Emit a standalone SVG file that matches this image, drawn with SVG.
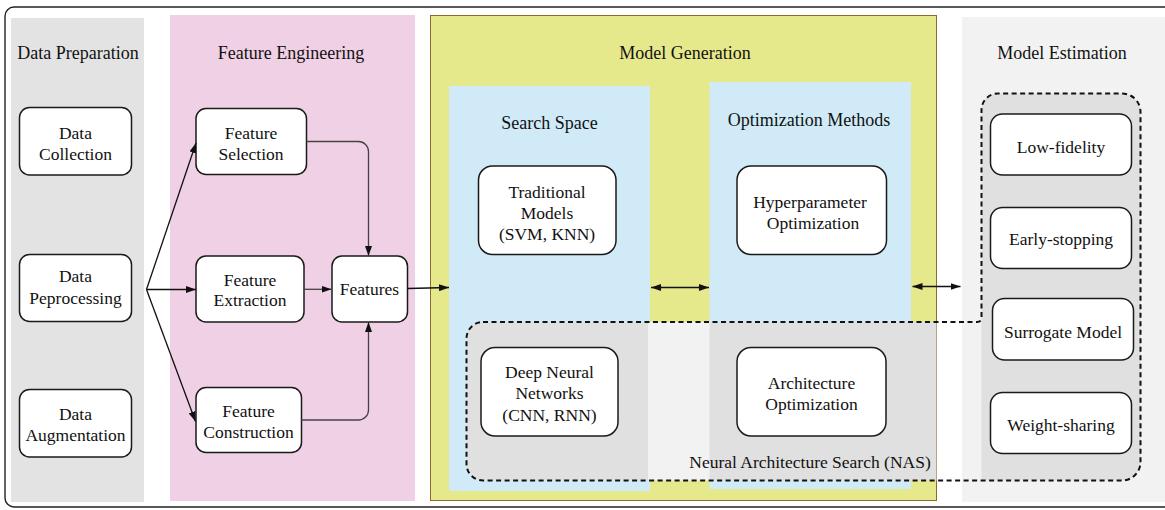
<svg xmlns="http://www.w3.org/2000/svg" width="1165" height="510" viewBox="0 0 1165 510">
<style>
  text { font-family: "Liberation Serif", "Times New Roman", serif; fill: #111; text-anchor: middle; }
  .title { font-size: 18px; }
  .lbl { font-size: 17.5px; }
  .box { fill: #ffffff; stroke: #1a1a1a; stroke-width: 1.5; }
  .conn { fill: none; stroke: #111; stroke-width: 1.3; }
  .connG { fill: none; stroke: #444; stroke-width: 1.3; }
  .dash { fill: none; stroke: #111; stroke-width: 2; stroke-dasharray: 5 3.5; }
</style>
<defs>
  <marker id="ah" viewBox="0 0 10 7" refX="10" refY="3.5" markerWidth="10" markerHeight="7" markerUnits="userSpaceOnUse" orient="auto-start-reverse">
    <path d="M0,0 L10,3.5 L0,7 Z" fill="#111"/>
  </marker>
</defs>
<rect width="1165" height="510" fill="#ffffff"/>
<!-- outer frame -->
<rect x="5" y="7" width="1175" height="500" rx="9" fill="none" stroke="#222" stroke-width="1.4"/>

<!-- panels -->
<g id="panel-data-preparation">
  <rect x="11" y="18" width="133" height="484" fill="#e3e3e3"/>
  <text class="title" x="78" y="59">Data Preparation</text>
</g>
<g id="panel-feature-engineering">
  <rect x="170" y="15" width="245" height="486" fill="#f0d0e4"/>
  <text class="title" x="291" y="59">Feature Engineering</text>
</g>
<g id="panel-model-generation">
  <rect x="430.5" y="15.5" width="506" height="485" fill="#e6e98b" stroke="#8b6a2e" stroke-width="1"/>
  <text class="title" x="685" y="59">Model Generation</text>
  <rect x="449" y="86" width="201" height="405" fill="#d0eaf7"/>
  <text class="title" x="549.5" y="128.5">Search Space</text>
  <rect x="709.5" y="82" width="201.5" height="407" fill="#d0eaf7"/>
  <text class="title" x="809" y="126">Optimization Methods</text>
</g>
<g id="panel-model-estimation">
  <rect x="962" y="17" width="210" height="485" fill="#f2f2f2"/>
  <text class="title" x="1062" y="59">Model Estimation</text>
</g>

<!-- NAS and estimation shaded regions -->
<g id="nas-region">
  <path d="M483,322 H936.5 V480.5 H483 A16.5,16.5 0 0 1 466.5,464 V338.5 A16.5,16.5 0 0 1 483,322 Z" fill="#e0e0e0"/>
  <rect x="648" y="322" width="61.5" height="158.5" fill="#f2f2f2"/>
  <path d="M998,93.5 H1122 A18.5,18.5 0 0 1 1140.5,112 V462 A18.5,18.5 0 0 1 1122,480.5 H981.5 V110 A16.5,16.5 0 0 1 998,93.5 Z" fill="#e0e0e0"/>
  <path class="dash" d="M483,322 H977 Q981.5,322 981.5,317.5 V110 A16.5,16.5 0 0 1 998,93.5 H1122 A18.5,18.5 0 0 1 1140.5,112 V462 A18.5,18.5 0 0 1 1122,480.5 H483 A16.5,16.5 0 0 1 466.5,464 V338.5 A16.5,16.5 0 0 1 483,322 Z"/>
  <text class="lbl" x="810" y="467.5">Neural Architecture Search (NAS)</text>
</g>

<!-- nodes -->
<g id="node-data-collection">
  <rect class="box" x="19.5" y="107.5" width="112" height="67.5" rx="10"/>
  <text class="lbl" x="75.5" y="138.5">Data</text>
  <text class="lbl" x="75.5" y="159.5">Collection</text>
</g>
<g id="node-data-peprocessing">
  <rect class="box" x="19.5" y="254.5" width="112" height="67" rx="10"/>
  <text class="lbl" x="75.5" y="282">Data</text>
  <text class="lbl" x="75.5" y="303.5">Peprocessing</text>
</g>
<g id="node-data-augmentation">
  <rect class="box" x="19.5" y="389.5" width="112" height="67.5" rx="10"/>
  <text class="lbl" x="75.5" y="420">Data</text>
  <text class="lbl" x="75.5" y="440.5">Augmentation</text>
</g>
<g id="node-feature-selection">
  <rect class="box" x="196" y="108.5" width="110.5" height="66" rx="10"/>
  <text class="lbl" x="251" y="138.5">Feature</text>
  <text class="lbl" x="251" y="159.5">Selection</text>
</g>
<g id="node-feature-extraction">
  <rect class="box" x="196" y="256" width="108" height="66" rx="10"/>
  <text class="lbl" x="250" y="286">Feature</text>
  <text class="lbl" x="250" y="305.5">Extraction</text>
</g>
<g id="node-feature-construction">
  <rect class="box" x="196" y="387.5" width="105.5" height="65" rx="10"/>
  <text class="lbl" x="248.5" y="417">Feature</text>
  <text class="lbl" x="248.5" y="437.5">Construction</text>
</g>
<g id="node-features">
  <rect class="box" x="332" y="256" width="75.5" height="66" rx="10"/>
  <text class="lbl" x="369.5" y="295">Features</text>
</g>
<g id="node-traditional-models">
  <rect class="box" x="478.5" y="166" width="137.5" height="88.5" rx="14"/>
  <text class="lbl" x="547" y="198">Traditional</text>
  <text class="lbl" x="547" y="219">Models</text>
  <text class="lbl" x="547" y="240">(SVM, KNN)</text>
</g>
<g id="node-hyperparameter-optimization">
  <rect class="box" x="737" y="166" width="149.5" height="88.5" rx="14"/>
  <text class="lbl" x="810" y="207.5">Hyperparameter</text>
  <text class="lbl" x="813" y="228.5">Optimization</text>
</g>
<g id="node-deep-neural-networks">
  <rect class="box" x="481" y="347.5" width="137" height="88.5" rx="14"/>
  <text class="lbl" x="549.5" y="377.5">Deep Neural</text>
  <text class="lbl" x="549.5" y="399">Networks</text>
  <text class="lbl" x="549.5" y="420.5">(CNN, RNN)</text>
</g>
<g id="node-architecture-optimization">
  <rect class="box" x="737" y="347.5" width="149" height="88.5" rx="14"/>
  <text class="lbl" x="811.5" y="389">Architecture</text>
  <text class="lbl" x="811.5" y="410">Optimization</text>
</g>
<g id="node-low-fidelity">
  <rect class="box" x="990.5" y="114" width="141" height="61" rx="12"/>
  <text class="lbl" x="1061" y="152.5">Low-fidelity</text>
</g>
<g id="node-early-stopping">
  <rect class="box" x="990.5" y="207.5" width="141" height="61" rx="12"/>
  <text class="lbl" x="1061" y="245">Early-stopping</text>
</g>
<g id="node-surrogate-model">
  <rect class="box" x="992.5" y="298.5" width="141" height="61.5" rx="12"/>
  <text class="lbl" x="1063" y="337.5">Surrogate Model</text>
</g>
<g id="node-weight-sharing">
  <rect class="box" x="990.5" y="392.5" width="141" height="61" rx="12"/>
  <text class="lbl" x="1061" y="431">Weight-sharing</text>
</g>

<!-- connectors -->
<g id="connectors">
  <line class="conn" x1="146.5" y1="289.5" x2="196" y2="143" marker-end="url(#ah)"/>
  <line class="conn" x1="146.5" y1="289.5" x2="196" y2="289.5" marker-end="url(#ah)"/>
  <line class="conn" x1="146.5" y1="289.5" x2="195.5" y2="421.5" marker-end="url(#ah)"/>
  <path class="connG" d="M306.5,141.5 H358.5 A10,10 0 0 1 368.5,151.5 V256" marker-end="url(#ah)"/>
  <line class="connG" x1="304" y1="289.3" x2="331.5" y2="289.3" marker-end="url(#ah)"/>
  <path class="connG" d="M301.5,420 H358.5 A10,10 0 0 0 368.5,410 V322" marker-end="url(#ah)"/>
  <line class="conn" x1="407.5" y1="288.5" x2="449" y2="287.5" marker-end="url(#ah)"/>
  <line class="conn" x1="651" y1="287.5" x2="709" y2="287.5" marker-start="url(#ah)" marker-end="url(#ah)"/>
  <line class="conn" x1="912.5" y1="286.5" x2="960.5" y2="286.5" marker-start="url(#ah)" marker-end="url(#ah)"/>
</g>
</svg>
